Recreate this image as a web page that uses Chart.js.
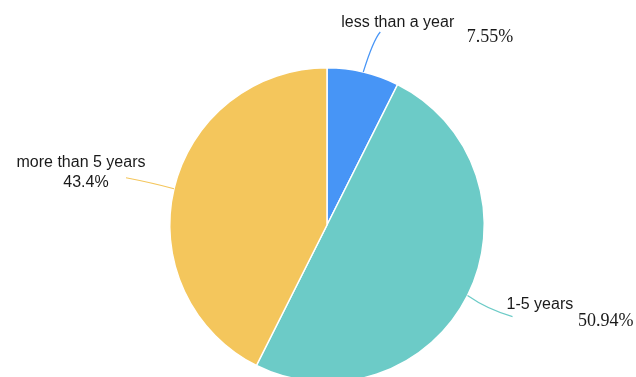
<!DOCTYPE html>
<html>
<head>
<meta charset="utf-8">
<script src="https://cdn.jsdelivr.net/npm/chart.js@4/dist/chart.umd.min.js"></script>
<style>
  html, body { margin: 0; padding: 0; background: #fff; overflow: hidden; }
  #wrap { width: 636px; height: 450px; }
</style>
</head>
<body>
<div id="wrap"><canvas id="pie"></canvas></div>
<script>
// chart data
var categories = ['less than a year', '1-5 years', 'more than 5 years'];
var percentLabels = ['7.55%', '50.94%', '43.4%'];
var values = [7.55, 50.94, 43.4];
var colors = ['#4795f6', '#6ccbc7', '#f4c65c'];

// label layout per slice: leader end offset from the slice edge, text positions relative to leader end
var labelLayout = [
    { dx: 17, dy: -40, cx: 10, cy: -32,
      name: { x: -39, y: -9, align: 'left', font: '16px "Liberation Sans"' },
      pct: { x: 133, y: 5, align: 'right', font: '18px "Liberation Serif"' } },
    { dx: 45, dy: 21, cx: 20, cy: 14,
      name: { x: -6, y: -12, align: 'left', font: '16px "Liberation Sans"' },
      pct: { x: 121, y: 5, align: 'right', font: '18px "Liberation Serif"' } },
    { dx: -48, dy: -11, cx: -22, cy: -6,
      name: { x: -45, y: -15, align: 'center', font: '16px "Liberation Sans"' },
      pct: { x: -40, y: 5, align: 'center', font: '16px "Liberation Sans"' } }
];

// draws leader lines and the two-line labels
var outsideLabels = {
    id: 'outsideLabels',
    afterDatasetsDraw: function (chart) {
        var ctx = chart.ctx;
        var arcs = chart.getDatasetMeta(0).data;
        ctx.save();
        for (var i = 0; i < arcs.length; i++) {
            var a = arcs[i];
            var mid = (a.startAngle + a.endAngle) / 2;
            var sx = a.x + Math.cos(mid) * a.outerRadius;
            var sy = a.y + Math.sin(mid) * a.outerRadius;
            var L = labelLayout[i];
            var ex = sx + L.dx, ey = sy + L.dy;

            ctx.strokeStyle = colors[i];
            ctx.lineWidth = 1.2;
            ctx.beginPath();
            ctx.moveTo(sx, sy);
            ctx.quadraticCurveTo(sx + L.cx, sy + L.cy, ex, ey);
            ctx.stroke();

            ctx.fillStyle = '#1a1a1a';
            ctx.textBaseline = 'middle';
            ctx.font = L.name.font;
            ctx.textAlign = L.name.align;
            ctx.fillText(categories[i], ex + L.name.x, ey + L.name.y);
            ctx.font = L.pct.font;
            ctx.textAlign = L.pct.align;
            ctx.fillText(percentLabels[i], ex + L.pct.x, ey + L.pct.y);
        }
        ctx.restore();
    }
};

new Chart(document.getElementById('pie').getContext('2d'), {
    type: 'pie',
    data: {
        labels: categories,
        datasets: [{
            data: values,
            backgroundColor: colors,
            borderColor: '#ffffff',
            borderWidth: 1.5
        }]
    },
    options: {
        responsive: true,
        maintainAspectRatio: false,
        animation: false,
        layout: {
            padding: { left: 169, right: 151, top: 67, bottom: 67 }
        },
        plugins: {
            legend: { display: false },
            title: { display: false },
            tooltip: { enabled: false }
        }
    },
    plugins: [outsideLabels]
});
</script>
</body>
</html>
